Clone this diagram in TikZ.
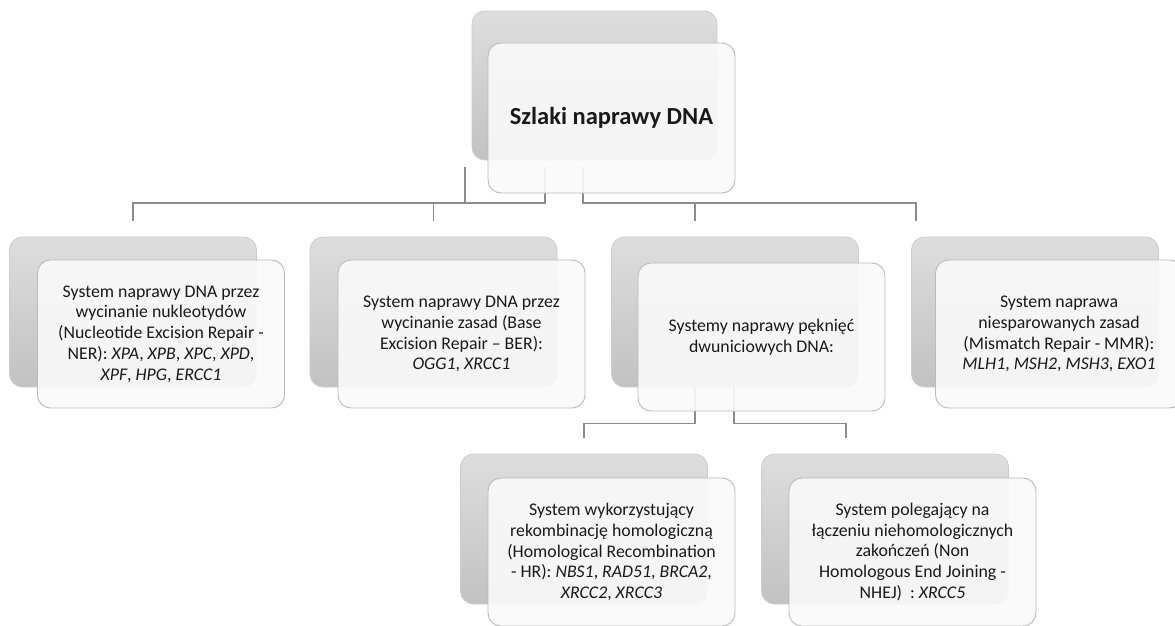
\documentclass[tikz,border=0pt]{standalone}
\usepackage{fontspec}
\setmainfont{Carlito}
\usetikzlibrary{positioning}
\tikzset{
  backbox/.style={rectangle, rounded corners=13pt, minimum width=247pt, minimum height=150pt, inner sep=0pt,
    top color=black!13, bottom color=black!24, draw=black!20, line width=0.8pt},
  frontbox/.style={rectangle, rounded corners=13pt, minimum width=247pt, minimum height=148pt, inner sep=0pt,
    fill=black!2, fill opacity=0.9, text opacity=1, draw=black!27, line width=0.9pt, align=center,
    text=black!90, font=\fontsize{17.8}{20.8}\selectfont},
  link/.style={draw=black!45, line width=1.3pt},
}

\begin{document}
\begin{tikzpicture}[x=1pt,y=-1pt]
\useasboundingbox (0,0) rectangle (1175,626);

% tylne prostokaty
\node[backbox, minimum width=245pt, minimum height=149pt] (topb) at (594.5,85.5) {};
\node[backbox] (nerb) at (133,312) {};
\node[backbox] (berb) at (433.5,312) {};
\node[backbox] (dsbb) at (735,312) {};
\node[backbox] (mmrb) at (1035,312) {};
\node[backbox] (hrb) at (584,529) {};
\node[backbox] (nhejb) at (885,529) {};

% polaczenia
\draw[link] ([shift={(-49.5,6.5)}]topb.south) -- ++(0,36) -| ([yshift=16pt]nerb.north);
\draw[link] ([shift={(-129.5,6.5)}]topb.south) -- ++(0,36) -| ([yshift=16pt]berb.north);
\draw[link] ([shift={(-11.5,6.5)}]topb.south) -- ++(0,36) -| ([xshift=-40pt,yshift=16pt]dsbb.north);
\draw[link] ([shift={(-11.5,6.5)}]topb.south) -- ++(0,36) -| ([xshift=-119pt,yshift=16pt]mmrb.north);
\draw[link] ([xshift=-40pt]dsbb.south) -- ++(0,36) -| ([yshift=16pt]hrb.north);
\draw[link] ([xshift=-1pt]dsbb.south) -- ++(0,36) -| ([xshift=-39pt,yshift=16pt]nhejb.north);

% przednie prostokaty
\node[frontbox, minimum height=150pt, font=\fontsize{24.5}{28}\selectfont\bfseries] (top) at ([shift={(17,32.5)}]topb.center) {Szlaki naprawy DNA};
\node[frontbox] (ner) at ([shift={(28,22)}]nerb.center) {System naprawy DNA przez\\wycinanie nukleotydów\\(Nucleotide Excision Repair -\\NER): \textit{XPA}, \textit{XPB}, \textit{XPC}, \textit{XPD},\\\textit{XPF}, \textit{HPG}, \textit{ERCC1}};
\node[frontbox] (ber) at ([shift={(28,22)}]berb.center) {System naprawy DNA przez\\wycinanie zasad (Base\\Excision Repair – BER):\\\textit{OGG1}, \textit{XRCC1}};
\node[frontbox] (dsb) at ([shift={(26.5,25)}]dsbb.center) {Systemy naprawy pęknięć\\dwuniciowych DNA:};
\node[frontbox] (mmr) at ([shift={(24,22)}]mmrb.center) {System naprawa\\niesparowanych zasad\\(Mismatch Repair - MMR):\\\textit{MLH1}, \textit{MSH2}, \textit{MSH3}, \textit{EXO1}};
\node[frontbox] (hr) at ([shift={(27.5,23)}]hrb.center) {System wykorzystujący\\rekombinację homologiczną\\(Homological Recombination\\- HR): \textit{NBS1}, \textit{RAD51}, \textit{BRCA2},\\\textit{XRCC2}, \textit{XRCC3}};
\node[frontbox] (nhej) at ([shift={(27.5,23)}]nhejb.center) {System polegający na\\łączeniu niehomologicznych\\zakończeń (Non\\Homologous End Joining -\\NHEJ)\ \ : \textit{XRCC5}};
\end{tikzpicture}
\end{document}
